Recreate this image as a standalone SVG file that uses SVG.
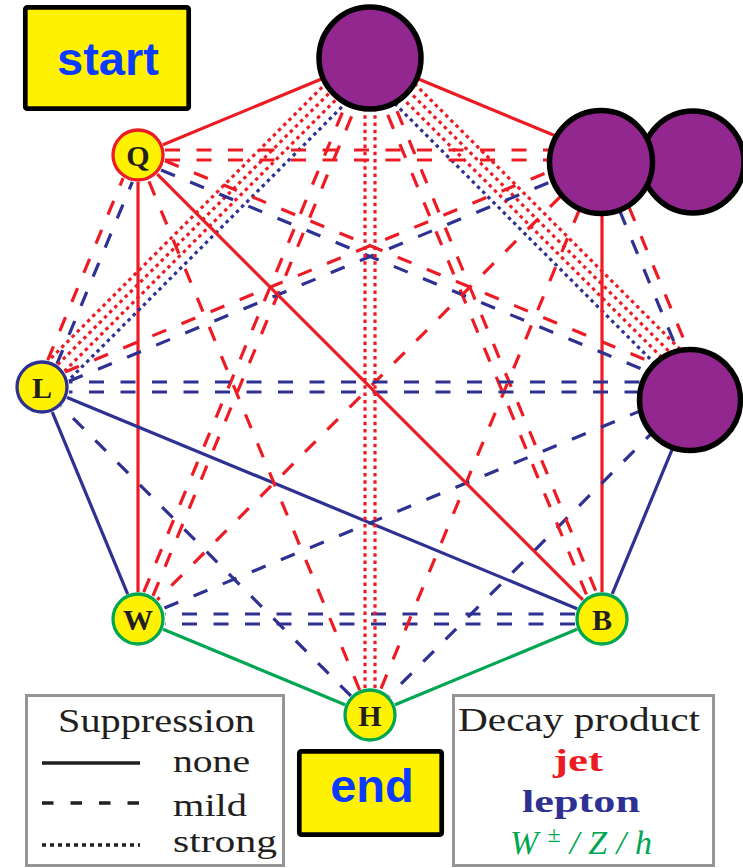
<svg xmlns="http://www.w3.org/2000/svg" width="743" height="868" viewBox="0 0 743 868">
<style>
.e{fill:none;stroke-width:3.2}
.r{stroke:#ed1c24}
.b{stroke:#2e3192}
.g{stroke:#00a651}
.da{stroke-dasharray:15 16.5}
.do{stroke-dasharray:3.5 3.8}
.pur{fill:#92278f;stroke:#000;stroke-width:5.5}
.nd{fill:#fff200;stroke-width:3.3}
.lt{font-family:"Liberation Serif","Times New Roman",serif;font-weight:bold;font-size:30px;fill:#231f20;text-anchor:middle}
.box{fill:#fff200;stroke:#000;stroke-width:4.7}
.bt{font-family:"Liberation Sans",Arial,sans-serif;font-weight:bold;font-size:47px;fill:#0b3bff;text-anchor:middle}
.leg{fill:#fff;stroke:#939598;stroke-width:3}
.tx{font-family:"Liberation Serif","Times New Roman",serif;font-size:31px;fill:#231f20}
.hd{font-size:33px}
</style>
<rect width="743" height="868" fill="#fff"/>
<g id="connectors">
 <g transform="translate(370,59) rotate(22.5)"><line class="e r" x1="27" y1="0" x2="224" y2="0"/></g>
 <g transform="translate(602,155) rotate(67.5)"><line class="e b da" x1="27" y1="5" x2="224" y2="5"/><line class="e r da" x1="27" y1="-5" x2="224" y2="-5"/></g>
 <g transform="translate(698,387) rotate(112.5)"><line class="e b" x1="27" y1="0" x2="224" y2="0"/></g>
 <g transform="translate(602,619) rotate(157.5)"><line class="e g" x1="27" y1="0" x2="224" y2="0"/></g>
 <g transform="translate(370,715) rotate(202.5)"><line class="e g" x1="27" y1="0" x2="224" y2="0"/></g>
 <g transform="translate(138,619) rotate(247.5)"><line class="e b" x1="27" y1="0" x2="224" y2="0"/></g>
 <g transform="translate(42,387) rotate(292.5)"><line class="e b da" x1="27" y1="5" x2="224" y2="5"/><line class="e r da" x1="27" y1="-5" x2="224" y2="-5"/></g>
 <g transform="translate(138,155) rotate(337.5)"><line class="e r" x1="27" y1="0" x2="224" y2="0"/></g>
 <g transform="translate(370,59) rotate(45)"><line class="e b do" x1="27" y1="14" x2="437" y2="14"/><line class="e r do" x1="27" y1="4.7" x2="437" y2="4.7"/><line class="e r do" x1="27" y1="-4.7" x2="437" y2="-4.7"/><line class="e r do" x1="27" y1="-14" x2="437" y2="-14"/></g>
 <g transform="translate(602,155) rotate(90)"><line class="e r" x1="27" y1="0" x2="437" y2="0"/></g>
 <g transform="translate(698,387) rotate(135)"><line class="e b da" x1="27" y1="0" x2="437" y2="0"/></g>
 <g transform="translate(602,619) rotate(180)"><line class="e b da" x1="27" y1="5" x2="437" y2="5"/><line class="e b da" x1="27" y1="-5" x2="437" y2="-5"/></g>
 <g transform="translate(370,715) rotate(225)"><line class="e b da" x1="27" y1="0" x2="437" y2="0"/></g>
 <g transform="translate(138,619) rotate(270)"><line class="e r" x1="27" y1="0" x2="437" y2="0"/></g>
 <g transform="translate(42,387) rotate(315)"><line class="e b do" x1="27" y1="14" x2="437" y2="14"/><line class="e r do" x1="27" y1="4.7" x2="437" y2="4.7"/><line class="e r do" x1="27" y1="-4.7" x2="437" y2="-4.7"/><line class="e r do" x1="27" y1="-14" x2="437" y2="-14"/></g>
 <g transform="translate(138,155) rotate(0)"><line class="e r da" x1="27" y1="5" x2="437" y2="5"/><line class="e r da" x1="27" y1="-5" x2="437" y2="-5"/></g>
 <g transform="translate(370,59) rotate(67.5)"><line class="e r da" x1="27" y1="5" x2="579" y2="5"/><line class="e r da" x1="27" y1="-5" x2="579" y2="-5"/></g>
 <g transform="translate(602,155) rotate(112.5)"><line class="e r da" x1="27" y1="0" x2="579" y2="0"/></g>
 <g transform="translate(698,387) rotate(157.5)"><line class="e b da" x1="27" y1="0" x2="579" y2="0"/></g>
 <g transform="translate(602,619) rotate(202.5)"><line class="e b" x1="27" y1="0" x2="579" y2="0"/></g>
 <g transform="translate(370,715) rotate(247.5)"><line class="e r da" x1="27" y1="0" x2="579" y2="0"/></g>
 <g transform="translate(138,619) rotate(292.5)"><line class="e r da" x1="27" y1="5" x2="579" y2="5"/><line class="e r da" x1="27" y1="-5" x2="579" y2="-5"/></g>
 <g transform="translate(42,387) rotate(337.5)"><line class="e b da" x1="27" y1="5" x2="579" y2="5"/><line class="e r da" x1="27" y1="-5" x2="579" y2="-5"/></g>
 <g transform="translate(138,155) rotate(22.5)"><line class="e b da" x1="27" y1="5" x2="579" y2="5"/><line class="e r da" x1="27" y1="-5" x2="579" y2="-5"/></g>
 <g transform="translate(370,59) rotate(90)"><line class="e r do" x1="27" y1="5" x2="629" y2="5"/><line class="e r do" x1="27" y1="-5" x2="629" y2="-5"/></g>
 <g transform="translate(602,155) rotate(135)"><line class="e r da" x1="27" y1="0" x2="629" y2="0"/></g>
 <g transform="translate(698,387) rotate(180)"><line class="e b da" x1="27" y1="5" x2="629" y2="5"/><line class="e b da" x1="27" y1="-5" x2="629" y2="-5"/></g>
 <g transform="translate(602,619) rotate(225)"><line class="e r" x1="27" y1="0" x2="629" y2="0"/></g>
</g>
<g id="node-top"><circle class="pur" cx="370" cy="58" r="51"/></g>
<g id="node-upper-right-2"><circle class="pur" cx="693" cy="162" r="51"/></g>
<g id="node-upper-right"><circle class="pur" cx="601" cy="162" r="51.5"/></g>
<g id="node-right"><circle class="pur" cx="690" cy="400" r="50.5"/></g>
<g id="node-Q"><circle class="nd" cx="138" cy="155" r="25" stroke="#ed1c24"/><text class="lt" x="138" y="165.5">Q</text></g>
<g id="node-L"><circle class="nd" cx="42" cy="387" r="25" stroke="#2e3192"/><text class="lt" x="42" y="397.5">L</text></g>
<g id="node-W"><circle class="nd" cx="138" cy="619" r="25" stroke="#00a651"/><text class="lt" x="138" y="629.5">W</text></g>
<g id="node-B"><circle class="nd" cx="602" cy="619" r="25" stroke="#00a651"/><text class="lt" x="602" y="629.5">B</text></g>
<g id="node-H"><circle class="nd" cx="370" cy="715" r="25" stroke="#00a651"/><text class="lt" x="370" y="725.5">H</text></g>
<g id="start"><rect class="box" x="25.3" y="7.3" width="163.4" height="101.4" rx="2"/><text class="bt" x="108" y="75">start</text></g>
<g id="end"><rect class="box" x="299.3" y="751.3" width="142.4" height="83.4" rx="2"/><text class="bt" x="372" y="802">end</text></g>
<g id="legend-suppression">
 <rect class="leg" x="26.5" y="695.5" width="257" height="170"/>
 <text class="tx hd" x="58" y="732" textLength="197" lengthAdjust="spacingAndGlyphs">Suppression</text>
 <line x1="42" y1="763" x2="140" y2="763" stroke="#231f20" stroke-width="3.5"/>
 <line x1="42" y1="803" x2="140" y2="803" stroke="#231f20" stroke-width="3.5" stroke-dasharray="11.5 17"/>
 <line x1="42" y1="845" x2="140" y2="845" stroke="#231f20" stroke-width="3.5" stroke-dasharray="4 4"/>
 <text class="tx" x="173" y="772" textLength="77" lengthAdjust="spacingAndGlyphs">none</text>
 <text class="tx" x="173" y="816" textLength="74" lengthAdjust="spacingAndGlyphs">mild</text>
 <text class="tx" x="173" y="852" textLength="104" lengthAdjust="spacingAndGlyphs">strong</text>
</g>
<g id="legend-decay">
 <rect class="leg" x="453.5" y="695.5" width="260" height="170"/>
 <text class="tx hd" x="458" y="731" textLength="242" lengthAdjust="spacingAndGlyphs">Decay product</text>
 <text class="tx" x="553" y="771" textLength="50" lengthAdjust="spacingAndGlyphs" font-weight="bold" style="fill:#ed1c24">jet</text>
 <text class="tx" x="522" y="812" textLength="118" lengthAdjust="spacingAndGlyphs" font-weight="bold" style="fill:#2e3192">lepton</text>
 <text class="tx" x="510" y="854" font-size="34" font-style="italic" style="fill:#00a651;font-size:34px" textLength="142" lengthAdjust="spacing">W<tspan font-size="24" style="font-size:24px" dy="-12" font-style="normal">±</tspan><tspan dy="12">/Z/h</tspan></text>
</g>
</svg>
